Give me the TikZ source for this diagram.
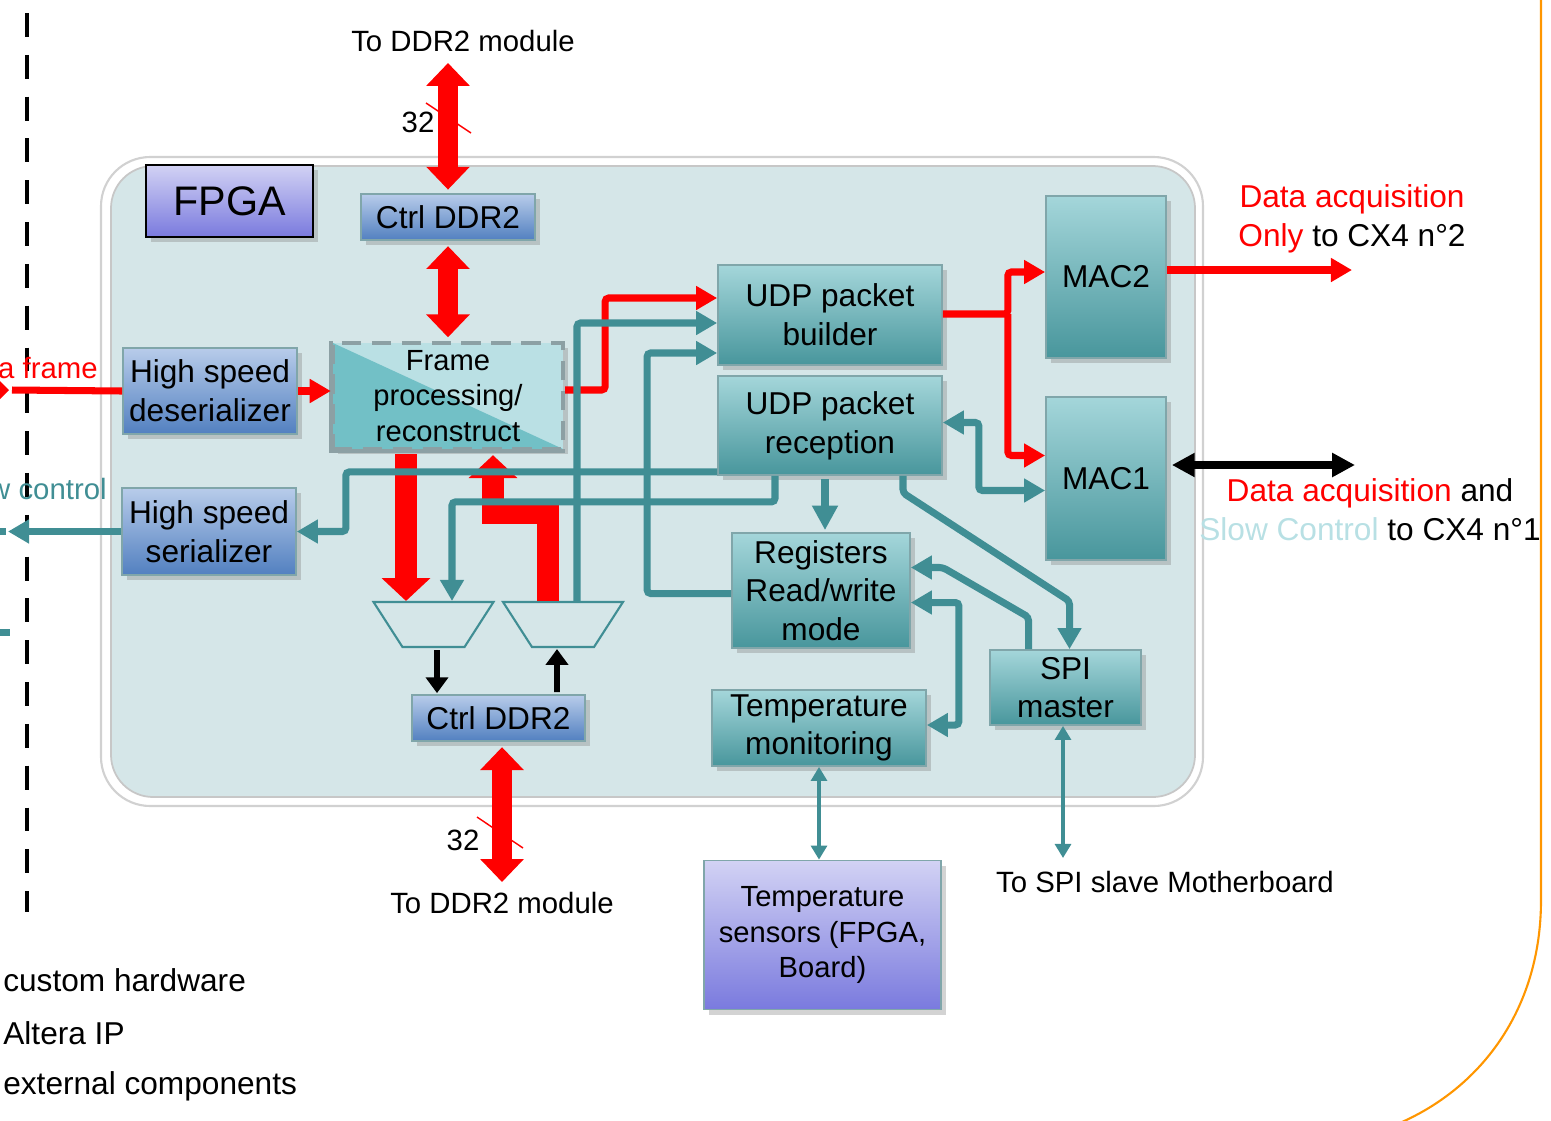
\documentclass[tikz,border=0pt]{standalone}
\usepackage{fontspec}
\setmainfont{Liberation Sans}
\usepackage{tikz}
\usetikzlibrary{shapes.geometric, arrows.meta, calc, shadows}
\definecolor{tealc}{RGB}{64,142,148}
\definecolor{tealtop}{RGB}{164,214,218}
\definecolor{tealbot}{RGB}{72,150,156}
\definecolor{tealedge}{RGB}{128,166,170}
\definecolor{bluetop}{RGB}{184,204,234}
\definecolor{bluebot}{RGB}{82,128,192}
\definecolor{lavtop}{RGB}{210,210,244}
\definecolor{lavbot}{RGB}{122,122,222}
\definecolor{fpgabg}{RGB}{213,230,232}
\definecolor{framelight}{RGB}{186,224,228}
\definecolor{framedark}{RGB}{114,192,198}
\definecolor{framepen}{RGB}{140,160,164}
\definecolor{slowc}{RGB}{184,224,228}
\definecolor{orangec}{RGB}{255,150,0}
\newcommand{\bxfont}{\fontsize{18}{22}\selectfont}
\newcommand{\frfont}{\fontsize{16.6}{20}\selectfont}
\newcommand{\lblfont}{\fontsize{16.7}{22}\selectfont}
\tikzstyle{shade} = [drop shadow={opacity=0.35, shadow xshift=3pt, shadow yshift=-3pt}]
\tikzstyle{tealbox} = [rectangle, draw=tealedge, line width=1pt, top color=tealtop, bottom color=tealbot, align=center, font=\bxfont, inner sep=1pt, shade]
\tikzstyle{bluebox} = [rectangle, draw=tealedge, line width=1pt, top color=bluetop, bottom color=bluebot, align=center, font=\bxfont, inner sep=1pt, shade]
\tikzstyle{lavbox} = [rectangle, draw=tealedge, line width=1pt, top color=lavtop, bottom color=lavbot, align=center, font=\frfont, inner sep=1pt, shade]
\tikzstyle{mux} = [trapezium, trapezium left angle=65, trapezium right angle=65, shape border rotate=180, trapezium stretches=true, minimum width=2.4cm, minimum height=0.9cm, draw=tealc, line width=1.2pt, fill=fpgabg]
\tikzstyle{lbl} = [font=\lblfont, align=center, inner sep=0pt]
\tikzstyle{redarrow} = [draw=red, line width=4pt, rounded corners=2pt, -{Triangle[width=13pt,length=12pt]}]
\tikzstyle{tealarrow} = [draw=tealc, line width=4pt, rounded corners=2pt, -{Triangle[width=13pt,length=12pt]}]
\tikzstyle{tealboth} = [draw=tealc, line width=4pt, rounded corners=2pt, {Triangle[width=13pt,length=12pt]}-{Triangle[width=13pt,length=12pt]}]
\tikzstyle{tealthin} = [draw=tealc, line width=2.3pt, {Triangle[width=9pt,length=8pt]}-{Triangle[width=9pt,length=8pt]}]
\tikzstyle{bigred} = [draw=red, line width=11.3pt, {Triangle[width=24pt,length=13pt]}-{Triangle[width=24pt,length=13pt]}]
\tikzstyle{bigredone} = [draw=red, line width=12pt, -{Triangle[width=27pt,length=13pt]}]
\tikzstyle{blackarrow} = [draw=black, line width=3.4pt, -{Triangle[width=12.5pt,length=9pt]}]

\begin{document}
\begin{tikzpicture}[x=0.02cm, y=-0.02cm]
\useasboundingbox (0,0) rectangle (1551,1120);

% board edge and separator
\draw[orangec, line width=1.2pt] (1541,-5) -- (1541,900) .. controls (1541,1010) and (1480,1090) .. (1395,1125);
\draw[black, line width=2.8pt, dash pattern=on 13.6pt off 10.2pt] (27,13) -- (27,912);

% fpga area
\draw[draw=black!18, line width=1.2pt, fill=white, rounded corners=28pt] (101,157) rectangle (1203,806);
\draw[draw=black!22, line width=1pt, fill=fpgabg, rounded corners=24pt] (111,166) rectangle (1195,797);

\node (fpga) [rectangle, draw=black, line width=1pt, top color=lavtop, bottom color=lavbot, minimum width=3.34cm, minimum height=1.44cm, font=\fontsize{23.5}{28}\selectfont, shade] at (229.5,201) {FPGA};

% blocks
\node (ddrtop) [bluebox, minimum width=3.48cm, minimum height=0.92cm] at (448,217) {Ctrl DDR2};
\node (ddrbot) [bluebox, minimum width=3.46cm, minimum height=0.92cm] at (498.5,718) {Ctrl DDR2};
\node (deser) [bluebox, minimum width=3.48cm, minimum height=1.72cm] at (210,391) {High speed\\deserializer};
\node (ser) [bluebox, minimum width=3.48cm, minimum height=1.74cm] at (209,531.5) {High speed\\serializer};
\node (frame) [rectangle, fill=framelight, draw=framepen, line width=2.5pt, dash pattern=on 11pt off 6pt, minimum width=4.6cm, minimum height=2.12cm, inner sep=0pt, align=center, font=\frfont, shade,
  path picture={\fill[framedark] (path picture bounding box.north west) -- (path picture bounding box.south east) -- (path picture bounding box.south west) -- cycle;}] at (448,396) {Frame\\processing/\\reconstruct};
\draw[framepen, line width=2.5pt] (frame.north west) -- (frame.south west) -- (frame.south east);
\node (udpb) [tealbox, minimum width=4.48cm, minimum height=2cm] at (830,315) {UDP packet\\builder};
\node (udpr) [tealbox, minimum width=4.48cm, minimum height=1.98cm] at (830,425.5) {UDP packet\\reception};
\node (mac2) [tealbox, minimum width=2.4cm, minimum height=3.24cm] at (1106,277) {MAC2};
\node (mac1) [tealbox, minimum width=2.4cm, minimum height=3.26cm] at (1106,478.5) {MAC1};
\node (regs) [tealbox, minimum width=3.56cm, minimum height=2.3cm] at (821,590.5) {Registers\\Read/write\\mode};
\node (tmon) [tealbox, minimum width=4.28cm, minimum height=1.52cm] at (819,728) {\raisebox{-4pt}{\shortstack{Temperature\\[2pt]monitoring}}};
\node (spi) [tealbox, minimum width=3.02cm, minimum height=1.5cm] at (1065.5,687.5) {SPI\\master};
\node (tsens) [lavbox, minimum width=4.74cm, minimum height=2.98cm] at (822.5,935) {Temperature\\sensors (FPGA,\\Board)};
\node (muxl) [mux] at (433.5,624.5) {};
\node (muxr) [mux] at (563,624.5) {};

% outside ends
\coordinate (ddrext1) at (448,63);
\coordinate (ddrext2) at (502,882);
\coordinate (redin) at (12,390);
\coordinate (sertip) at (8,531.5);
\coordinate (cx2) at (1352,270);
\coordinate (cx1) at (1355,465);
\coordinate (spiext) at (1063,858);

% labels
\node (ddrtxt1) [lbl] at (463,41) {To DDR2 module};
\node (ddrtxt2) [lbl] at (502,903) {To DDR2 module};
\node (bus1) [lbl] at (418,122) {32};
\node (bus2) [lbl] at (463,840) {32};
\node (frametxt) [lbl, anchor=east, text=red] at (98,368) {a frame};
\node (slowtxt) [lbl, anchor=east, text=tealc] at (107,489) {w control};
\node (cx2txt) [lbl, font=\bxfont] at (1352,219) {\textcolor{red}{Data acquisition}\\\textcolor{red}{Only} to CX4 n°2};
\node (cx1txt) [lbl, font=\bxfont] at (1370,510) {\textcolor{red}{Data acquisition} and\\\textcolor{slowc}{Slow Control} to CX4 n°1};
\node (spitxt) [lbl] at (1165,882) {To SPI slave Motherboard};
\node (leg1) [lbl, anchor=west, font=\bxfont] at (3,980) {custom hardware};
\node (leg2) [lbl, anchor=west, font=\bxfont] at (3,1033) {Altera IP};
\node (leg3) [lbl, anchor=west, font=\bxfont] at (3,1086) {external components};

% ddr2 paths
\draw[bigred] ([yshift=2pt]ddrtop.north) -- (ddrext1);
\draw[bigred] ([yshift=-3pt]ddrtop.south) -- ([yshift=2pt]frame.north);
\draw[bigred] ([yshift=-3pt]ddrbot.south -| ddrext2) -- (ddrext2);
\draw[red, line width=0.8pt] (426,103) -- (471,133);
\draw[red, line width=0.8pt] (477,817) -- (523,848);
\draw[bigredone] ($(frame.south)+(-42,3)$) -- ($(muxl.north)+(-27.5,0)$);
\draw[bigredone, line join=miter] ($(muxr.north)+(-15,0)$) -- ++(0,-88) -| ($(frame.south)+(45,4)$);
\draw[blackarrow] ($(muxl.south)+(3.5,2)$) -- ($(ddrbot.north)+(-61.5,-1)$);
\draw[blackarrow] ($(ddrbot.north)+(58.5,-2)$) -- ($(muxr.south)+(-6,1)$);

% data frame path
\fill[red] (0,381) -- (9,390) -- (0,399) -- cycle;
\draw[red, line width=4pt] (deser.west) -- (redin);
\draw[redarrow] (deser.east) -- (deser.east -| frame.west);
\draw[redarrow] ($(frame.east)+(0,-6)$) -- ++(40,0) |- ($(udpb.west)+(0,-17)$);
\draw[redarrow] ($(udpb.east)+(0,-1)$) -- ++(65,0) |- ($(mac2.west)+(0,-5)$);
\draw[redarrow] ($(udpb.east)+(65,-1)$) |- ($(mac1.west)+(0,-23)$);
\draw[redarrow] ($(mac2.east)+(0,-7)$) -- (cx2);
\draw[draw=black, line width=4.5pt, {Triangle[width=13pt,length=13pt]}-{Triangle[width=13pt,length=13pt]}] ($(mac1.east)+(5,-13.5)$) -- (cx1);

% slow control paths
\draw[tealc, line width=4pt] (0,531.5) -- (6,531.5);
\draw[tealc, line width=4pt] (0,632) -- (10,632);
\draw[tealarrow] (ser.west) -- (sertip);
\draw[tealarrow] ($(udpr.south west)+(0,-4)$) -| ($(ser.east)+(49,0)$) -- (ser.east);
\draw[tealarrow] ($(udpr.south)+(-55,0)$) -- ++(0,26) -| ($(muxl.north)+(18.5,0)$);
\draw[tealarrow] ($(muxr.north)+(14,0)$) |- ($(udpb.west)+(0,8)$);
\draw[tealarrow] ($(regs.west)+(0,3)$) -- ++(-84,0) |- ($(udpb.west)+(0,38)$);
\draw[tealboth] ($(udpr.east)+(0,-3)$) -- ++(36,0) |- ($(mac1.west)+(0,12)$);
\draw[draw=tealc, line width=5pt, -{Triangle[width=14pt,length=14pt]}] ($(udpr.south)+(-5,3)$) -- ($(regs.north)+(4,-2)$);
\draw[tealarrow] ($(udpr.south)+(73,0)$) -- ++(0,17) -- ($(spi.north)+(4,-48)$) -- ($(spi.north)+(4,0)$);
\draw[tealarrow] ($(spi.north)+(-37,0)$) -- ++(0,-32) -- ($(regs.east)+(32,-23)$) -- ($(regs.east)+(0,-23)$);
\draw[tealboth] ($(regs.east)+(0,12)$) -- ++(48,0) |- ($(tmon.east)+(0,-3)$);
\draw[tealthin] (tmon.south) -- (tmon.south |- tsens.north);
\draw[tealthin] (spi.south -| spiext) -- (spiext);
\end{tikzpicture}
\end{document}
